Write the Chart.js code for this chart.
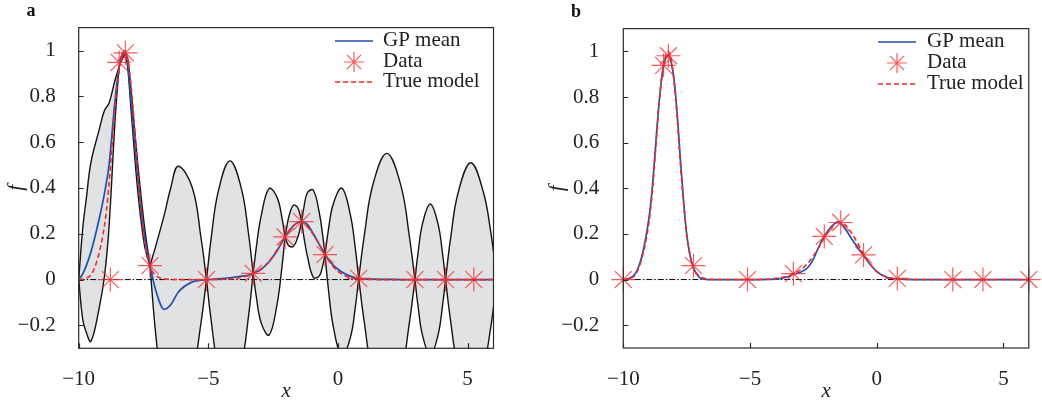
<!DOCTYPE html>
<html><head><meta charset="utf-8">
<script src="https://cdn.jsdelivr.net/npm/chart.js@4/dist/chart.umd.min.js"></script>
<style>
html,body{margin:0;padding:0;background:#fff;width:1042px;height:404px;overflow:hidden;}
#ca{position:absolute;left:0;top:0;}
#cb{position:absolute;left:540px;top:0;}
</style></head><body>
<canvas id="ca" width="520" height="404"></canvas>
<canvas id="cb" width="502" height="404"></canvas>
<script>
// ---------- data ----------
const xRange = [-10, 6];
const yRange = [-0.3, 1.1];
const xTicks = [-10, -5, 0, 5];
const yTicks = [-0.2, 0, 0.2, 0.4, 0.6, 0.8, 1];
const legendLabels = ['GP mean', 'Data', 'True model'];

// True model (shared by both panels)
const trueX = [-10, -9.75, -9.5, -9.25, -9.0, -8.875, -8.75, -8.625, -8.5, -8.375, -8.25, -8.125, -8.0, -7.875, -7.75, -7.625, -7.5, -7.375, -7.25, -7.0, -6.75, -6.5, -6.0, -5.0, -4.5, -4.0, -3.5, -3.25, -3.0, -2.75, -2.5, -2.25, -2.0, -1.75, -1.5, -1.25, -1.0, -0.75, -0.5, -0.25, 0, 0.25, 0.5, 0.75, 1.0, 1.5, 2, 4, 6];
const trueY = [0, 0.005, 0.025, 0.10, 0.24, 0.36, 0.53, 0.72, 0.87, 0.96, 1.0, 0.97, 0.87, 0.71, 0.51, 0.34, 0.2, 0.11, 0.055, 0.015, 0.004, 0.001, 0, 0, 0.001, 0.005, 0.016, 0.027, 0.043, 0.068, 0.103, 0.148, 0.195, 0.232, 0.25, 0.24, 0.205, 0.158, 0.108, 0.066, 0.036, 0.018, 0.008, 0.003, 0.001, 0, 0, 0, 0];

// Panel a: GP mean and 2-sigma half width on one grid
const aX = [-10, -9.844, -9.71, -9.53, -9.22, -9.0, -8.83, -8.6, -8.44, -8.32, -8.2, -8.105, -7.9625, -7.725, -7.4875, -7.345, -7.25, -7.032, -6.705, -6.45, -6.16, -5.615, -5.288, -5.07, -4.89, -4.62, -4.17, -3.72, -3.45, -3.27, -3.147, -2.9575, -2.655, -2.3525, -2.163, -2.04, -1.976, -1.88, -1.72, -1.56, -1.464, -1.4, -1.31, -1.175, -0.95, -0.725, -0.59, -0.5, -0.37, -0.175, 0.15, 0.475, 0.67, 0.8, 1.017, 1.3425, 1.885, 2.4275, 2.753, 2.97, 3.088, 3.265, 3.56, 3.855, 4.032, 4.15, 4.345, 4.6375, 5.125, 5.6125, 5.905, 6.0];
const aMean = [0, 0.025, 0.06, 0.12, 0.26, 0.38, 0.5, 0.78, 0.93, 0.975, 0.99, 0.94, 0.76, 0.45, 0.21, 0.115, 0.061, -0.045, -0.13, -0.11, -0.055, -0.01, -0.003, 0, 0.001, 0.003, 0.008, 0.015, 0.02, 0.027, 0.033, 0.045, 0.078, 0.125, 0.162, 0.186, 0.197, 0.213, 0.235, 0.248, 0.252, 0.253, 0.25, 0.24, 0.2, 0.155, 0.127, 0.109, 0.088, 0.062, 0.033, 0.015, 0.008, 0.005, 0.003, 0.002, 0.001, 0, 0, 0, 0, 0, 0, 0, 0, 0, 0, 0, 0, 0, 0, 0];
const aHalf = [0, 0.2, 0.29, 0.39, 0.39, 0.36, 0.27, 0.09, 0, 0.012, 0, 0.02, 0.045, 0.06, 0.045, 0.02, 0, 0.19, 0.41, 0.51, 0.55, 0.41, 0.19, 0, 0.18, 0.38, 0.51, 0.38, 0.18, 0, 0.11, 0.235, 0.32, 0.235, 0.11, 0, 0.032, 0.067, 0.09, 0.067, 0.032, 0, 0.067, 0.14, 0.19, 0.14, 0.067, 0, 0.128, 0.27, 0.366, 0.27, 0.128, 0, 0.19, 0.41, 0.55, 0.41, 0.19, 0, 0.115, 0.245, 0.33, 0.245, 0.115, 0, 0.18, 0.38, 0.51, 0.38, 0.2, 0.12];
const aDataX = [-8.78, -8.44, -8.2, -7.25, -5.07, -3.27, -2.04, -1.4, -0.5, 0.8, 2.97, 4.15, 5.24];
const aDataY = [0, 0.948, 0.99, 0.061, 0, 0.027, 0.186, 0.253, 0.109, 0.005, 0, 0, 0];

// Panel b
const bX = [-10, -9.75, -9.5, -9.25, -9.0, -8.875, -8.75, -8.625, -8.5, -8.41, -8.3, -8.22, -8.125, -8.0, -7.875, -7.75, -7.625, -7.5, -7.375, -7.23, -7.0, -6.75, -6.5, -5.1, -4.0, -3.5, -3.29, -3.1, -2.9, -2.7, -2.5, -2.3, -2.07, -1.85, -1.65, -1.54, -1.42, -1.2, -1.0, -0.75, -0.52, -0.25, 0, 0.25, 0.5, 0.81, 1.2, 1.6, 6];
const bMean = [0, 0.006, 0.03, 0.11, 0.26, 0.38, 0.55, 0.73, 0.87, 0.939, 0.975, 0.985, 0.96, 0.88, 0.73, 0.53, 0.35, 0.2, 0.11, 0.05, 0.01, 0.001, 0, 0, 0.002, 0.012, 0.024, 0.028, 0.038, 0.055, 0.09, 0.14, 0.189, 0.225, 0.246, 0.253, 0.245, 0.215, 0.18, 0.14, 0.105, 0.065, 0.035, 0.017, 0.007, 0.003, 0.001, 0, 0];
const bDataX = [-10, -8.41, -8.22, -7.23, -5.1, -3.29, -2.07, -1.42, -0.52, 0.81, 3.0, 4.19, 6.0];
const bDataY = [0, 0.939, 0.981, 0.061, 0, 0.026, 0.189, 0.25, 0.108, 0.005, 0, 0, 0];

// ---------- styles ----------
const FONT = "'Liberation Serif','Times New Roman',Times,serif";
const BLUE = '#2050b0', RED = '#ee2b2b', STAR = 'rgba(245,45,45,0.78)', BAND = '#e1e2e4', EDGE = '#141414', TXT = '#222';

function fmt(v) {
  const s = Math.abs(v) < 1e-9 ? '0' : String(Math.round(v * 10) / 10);
  return s.replace('-', '\u2212');
}
function pts(xs, ys) { return xs.map((x, i) => ({x: x, y: ys[i]})); }

// split the band into lobes between points where the half width is zero
function bandDatasets(xs, mean, half) {
  const out = [];
  const cuts = [];
  half.forEach((h, i) => { if (h === 0) cuts.push(i); });
  if (cuts[cuts.length - 1] !== xs.length - 1) cuts.push(xs.length - 1);
  for (let k = 0; k < cuts.length - 1; k++) {
    const i0 = cuts[k], i1 = cuts[k + 1];
    const lo = [], up = [];
    for (let i = i0; i <= i1; i++) {
      lo.push({x: xs[i], y: mean[i] - half[i]});
      up.push({x: xs[i], y: mean[i] + half[i]});
    }
    out.push({data: lo, borderColor: EDGE, borderWidth: 1.4, pointRadius: 0, fill: false, tension: 0.4, order: 10});
    out.push({data: up, borderColor: EDGE, borderWidth: 1.4, pointRadius: 0, fill: '-1', backgroundColor: BAND, tension: 0.4, order: 10});
  }
  return out;
}

function decor(p) {
  return {
    id: 'decor',
    afterDatasetsDraw(chart) {
      const ctx = chart.ctx, a = chart.chartArea;
      const xs = chart.scales.x, ys = chart.scales.y;
      ctx.save();
      ctx.strokeStyle = '#2a2a2a';
      ctx.lineWidth = 1.2;
      ctx.setLineDash([]);
      ctx.strokeRect(a.left, a.top, a.right - a.left, a.bottom - a.top);
      ctx.beginPath();
      yTicks.forEach(v => { const y = Math.round(ys.getPixelForValue(v)) + 0.5; ctx.moveTo(a.left, y); ctx.lineTo(a.left + 5, y); });
      xTicks.forEach(v => { const x = Math.round(xs.getPixelForValue(v)) + 0.5; ctx.moveTo(x, a.bottom); ctx.lineTo(x, a.bottom - 5); });
      ctx.stroke();
      ctx.restore();
    },
    afterDraw(chart) {
      const ctx = chart.ctx;
      ctx.save();
      ctx.fillStyle = '#111';
      ctx.font = 'bold 18px ' + FONT;
      ctx.textAlign = 'center';
      ctx.textBaseline = 'middle';
      ctx.fillText(p.letter, p.letterX, p.letterY);
      const L = p.legend;
      ctx.lineWidth = 1.6;
      ctx.strokeStyle = BLUE;
      ctx.beginPath(); ctx.moveTo(L.x0, L.rows[0]); ctx.lineTo(L.x1, L.rows[0]); ctx.stroke();
      ctx.strokeStyle = STAR; ctx.lineWidth = 1.2;
      Chart.helpers.drawPoint(ctx, {pointStyle: 'star', radius: 10, borderWidth: 1.2}, (L.x0 + L.x1) / 2, L.rows[1]);
      ctx.strokeStyle = RED; ctx.lineWidth = 1.6; ctx.setLineDash([5, 3]);
      ctx.beginPath(); ctx.moveTo(L.x0, L.rows[2]); ctx.lineTo(L.x1, L.rows[2]); ctx.stroke();
      ctx.setLineDash([]);
      ctx.fillStyle = TXT;
      ctx.font = '21px ' + FONT;
      ctx.textAlign = 'left';
      ctx.textBaseline = 'middle';
      legendLabels.forEach((t, i) => ctx.fillText(t, L.tx, L.rows[i] - 1));
      ctx.restore();
    }
  };
}

function panel(id, p) {
  const ds = p.half ? bandDatasets(p.meanX, p.meanY, p.half) : [];
  ds.push({data: [{x: xRange[0], y: 0}, {x: xRange[1], y: 0}], borderColor: '#000', borderWidth: 1, borderDash: [6, 2, 1.5, 2], pointRadius: 0, fill: false, order: 8});
  ds.push({label: legendLabels[0], data: pts(p.meanX, p.meanY), borderColor: BLUE, borderWidth: 1.7, pointRadius: 0, fill: false, cubicInterpolationMode: 'monotone', order: 6});
  ds.push({label: legendLabels[2], data: pts(trueX, trueY), borderColor: RED, borderWidth: 1.6, borderDash: [5, 3], pointRadius: 0, fill: false, cubicInterpolationMode: 'monotone', order: 5});
  ds.push({label: legendLabels[1], data: pts(p.dataX, p.dataY), showLine: false, pointStyle: 'star', pointRadius: 12, pointBorderColor: STAR, pointBorderWidth: 1.2, borderColor: STAR, backgroundColor: STAR, order: 1, clip: false});

  const tickFont = {family: FONT, size: 21};
  return new Chart(document.getElementById(id), {
    type: 'line',
    data: {datasets: ds},
    options: {
      responsive: false, animation: false, devicePixelRatio: 1,
      layout: {padding: {left: 0, top: p.padTop, right: p.padRight, bottom: 0}},
      plugins: {legend: {display: false}, tooltip: {enabled: false}},
      scales: {
        x: {
          type: 'linear', min: xRange[0], max: xRange[1],
          afterBuildTicks: s => { s.ticks = xTicks.map(v => ({value: v})); },
          afterFit: s => { s.height = p.xH; },
          grid: {display: false}, border: {display: false},
          ticks: {font: tickFont, color: TXT, padding: 11, maxRotation: 0, autoSkip: false, callback: v => fmt(v)},
          title: {display: true, text: 'x', color: TXT, font: {family: FONT, size: 21, style: 'italic'}, padding: {top: 0, bottom: 0}}
        },
        y: {
          type: 'linear', min: yRange[0], max: yRange[1],
          afterBuildTicks: s => { s.ticks = yTicks.map(v => ({value: v})); },
          afterFit: s => { s.width = p.yW; },
          grid: {display: false}, border: {display: false},
          ticks: {font: tickFont, color: TXT, padding: p.yPad, autoSkip: false, callback: v => fmt(v)},
          title: {display: true, text: 'f', color: TXT, font: {family: FONT, size: 21, style: 'italic'}, padding: {top: p.fPad, bottom: 0}}
        }
      }
    },
    plugins: [decor(p)]
  });
}

panel('ca', {
  meanX: aX, meanY: aMean, half: aHalf, dataX: aDataX, dataY: aDataY,
  padTop: 17.5, padRight: 26.5, xH: 55.7, yW: 78.7, yPad: 15, fPad: 3.5,
  letter: 'a', letterX: 31, letterY: 11,
  legend: {x0: 335, x1: 373, tx: 383, rows: [41, 62, 82]}
});
panel('cb', {
  meanX: bX, meanY: bMean, half: null, dataX: bDataX, dataY: bDataY,
  padTop: 20, padRight: 6, xH: 56, yW: 83.3, yPad: 16, fPad: 5,
  letter: 'b', letterX: 36, letterY: 12,
  legend: {x0: 338, x1: 376, tx: 387, rows: [42, 63, 84]}
});
</script>
</body></html>
